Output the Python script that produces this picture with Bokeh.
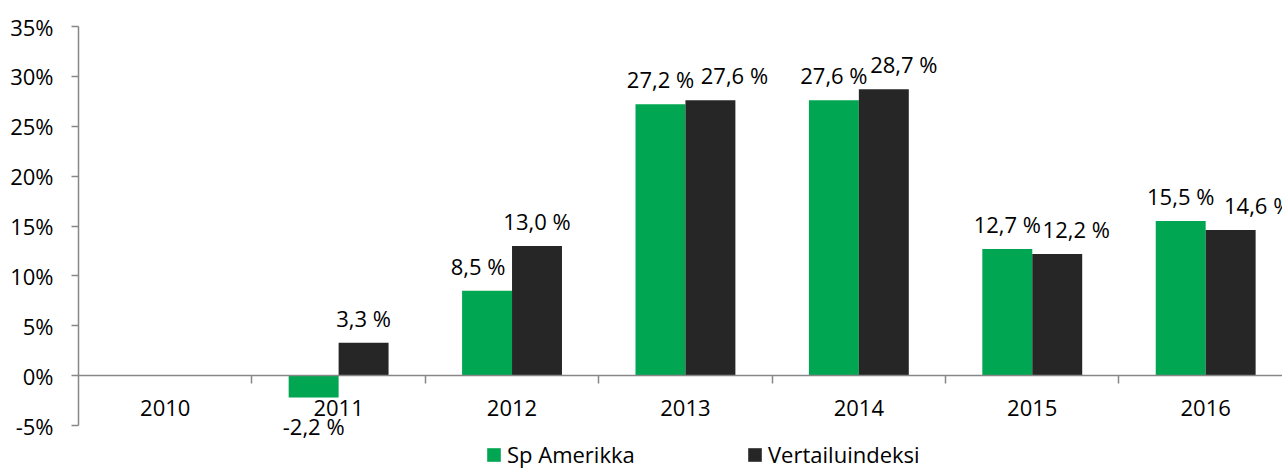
import math
from bokeh.plotting import figure
from bokeh.models import ColumnDataSource, FixedTicker, Range1d, Legend, LegendItem
from bokeh.transform import dodge
from bokeh.core.properties import value
from bokeh.embed import file_html
from bokeh.resources import INLINE

# ---- data ----
years = ["2010", "2011", "2012", "2013", "2014", "2015", "2016"]
sp_amerikka = [None, -2.2, 8.5, 27.2, 27.6, 12.7, 15.5]
vertailuindeksi = [None, 3.3, 13.0, 27.6, 28.7, 12.2, 14.6]
series_names = ["Sp Amerikka", "Vertailuindeksi"]
y_ticks = [-5, 0, 5, 10, 15, 20, 25, 30, 35]

# ---- style ----
GREEN = "#00A651"
DARK = "#262626"
AXIS = "#878787"
FONT = "Open Sans"
FS = "22px"
BAR_W = 0.288
# per-label horizontal nudges (px), as in the reference
sp_dx = [0, 0, -9, 0, 0, 0, 0]
vi_dx = [0, 0, 0, 24, 20, 19, 27]


def nanify(vals):
    return [float("nan") if v is None else v for v in vals]


centers = [i + 0.5 for i in range(len(years))]
y_lo, y_hi = y_ticks[0], y_ticks[-1]

# frame spans down to the figure bottom so that labels / legend below the axis are not clipped
p = figure(width=1282, height=468, output_backend="svg", toolbar_location=None,
           x_range=Range1d(0, 6.943), y_range=Range1d(y_lo - 4.31, y_hi),
           min_border_left=78, min_border_top=26, min_border_bottom=0,
           min_border_right=0)
p.outline_line_color = None
p.xgrid.visible = False
p.ygrid.visible = False
p.background_fill_color = "white"
p.border_fill_color = "white"

src = ColumnDataSource(dict(x=centers, sp=nanify(sp_amerikka), vi=nanify(vertailuindeksi)))
g1 = p.vbar(x=dodge("x", -BAR_W / 2), top="sp", bottom=0, width=BAR_W, source=src,
            fill_color=GREEN, line_color=None)
g2 = p.vbar(x=dodge("x", BAR_W / 2), top="vi", bottom=0, width=BAR_W, source=src,
            fill_color=DARK, line_color=None)

# value labels
lx, ly, lt, lxo, lyo = [], [], [], [], []
for vals, shift, dxs in ((sp_amerikka, -BAR_W / 2, sp_dx), (vertailuindeksi, BAR_W / 2, vi_dx)):
    for c, v, dx in zip(centers, vals, dxs):
        if v is None:
            continue
        lx.append(c + shift)
        ly.append(v)
        lt.append(f"{v:.1f} %".replace(".", ","))
        lxo.append(dx)
        lyo.append(-25 if v >= 0 else 28)
lsrc = ColumnDataSource(dict(x=lx, y=ly, t=lt, xo=lxo, yo=lyo))
p.text(x="x", y="y", text="t", x_offset="xo", y_offset="yo", source=lsrc,
       text_font=value(FONT), text_font_size=value(FS), text_color="black",
       text_align="center", text_baseline="middle")

# x axis at zero, labels centered, ticks at category boundaries
xa = p.xaxis[0]
xa.fixed_location = 0
xa.ticker = FixedTicker(ticks=centers, minor_ticks=list(range(1, len(years))))
xa.major_label_overrides = {c: y for c, y in zip(centers, years)}
xa.major_tick_line_color = None
xa.major_tick_out = 0
xa.major_tick_in = 0
xa.minor_tick_line_color = AXIS
xa.minor_tick_line_width = 1.5
xa.minor_tick_out = 8
xa.minor_tick_in = 0
xa.axis_line_color = AXIS
xa.axis_line_width = 1.5
xa.major_label_standoff = 16
xa.major_label_text_font = FONT
xa.major_label_text_font_size = FS
xa.major_label_text_color = "black"

ya = p.yaxis[0]
ya.bounds = (y_lo, y_hi)
ya.ticker = FixedTicker(ticks=y_ticks)
ya.major_label_overrides = {t: f"{t}%" for t in y_ticks}
ya.major_tick_line_color = AXIS
ya.major_tick_line_width = 1.5
ya.major_tick_out = 7
ya.major_tick_in = 0
ya.minor_tick_line_color = None
ya.axis_line_color = AXIS
ya.axis_line_width = 1.5
ya.major_label_standoff = 18
ya.major_label_text_font = FONT
ya.major_label_text_font_size = FS
ya.major_label_text_color = "black"

legend = Legend(items=[LegendItem(label=series_names[0], renderers=[g1]),
                       LegendItem(label=series_names[1], renderers=[g2])],
                orientation="horizontal", location=(407, -1),
                glyph_width=17, glyph_height=17, label_standoff=5,
                label_width=239, spacing=0, padding=0, margin=0,
                border_line_color=None, background_fill_alpha=0,
                label_text_font=FONT, label_text_font_size=FS,
                label_text_color="black")
p.add_layout(legend)

open("out.html", "w").write(file_html(p, INLINE))
